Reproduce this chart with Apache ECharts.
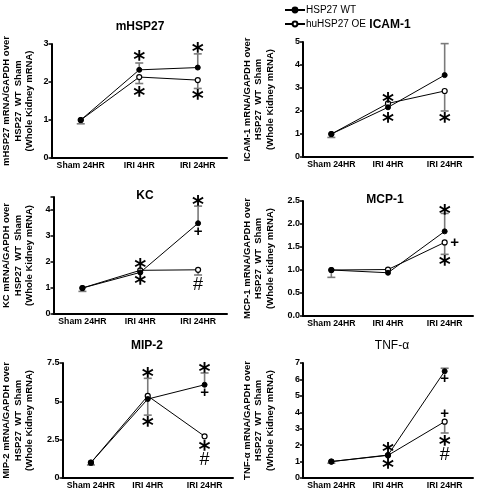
<!DOCTYPE html>
<html><head><meta charset="utf-8">
<script src="https://cdn.jsdelivr.net/npm/echarts@6/dist/echarts.min.js"></script>
<style>html,body{margin:0;padding:0;background:#fff}#c{width:479px;height:490px}</style>
</head><body><div id="c"></div>
<script>
// ---------- DATA ----------
const categories = ['Sham 24HR', 'IRI 4HR', 'IRI 24HR'];
const seriesNames = ['HSP27 WT', 'huHSP27 OE'];
const panelTitles = ['mHSP27', 'ICAM-1', 'KC', 'MCP-1', 'MIP-2', 'TNF-α'];
const yNames = [
  'mHSP27 mRNA/GAPDH over\nHSP27  WT  Sham\n(Whole Kidney mRNA)',
  'ICAM-1 mRNA/GAPDH over\nHSP27  WT  Sham\n(Whole Kidney mRNA)',
  'KC mRNA/GAPDH over\nHSP27  WT  Sham\n(Whole Kidney mRNA)',
  'MCP-1 mRNA/GAPDH over\nHSP27  WT  Sham\n(Whole Kidney mRNA)',
  'MIP-2 mRNA/GAPDH over\nHSP27  WT  Sham\n(Whole Kidney mRNA)',
  'TNF-α mRNA/GAPDH over\nHSP27  WT  Sham\n(Whole Kidney mRNA)'
];
const yMax = [3, 5, 4.5, 2.5, 7.5, 7];
const yInterval = [1, 1, 1, 0.5, 2.5, 1];

// means
const mHSP27_WT = [1.00, 2.32, 2.38];
const mHSP27_OE = [1.00, 2.13, 2.05];
const ICAM1_WT = [1.00, 2.16, 3.56];
const ICAM1_OE = [1.00, 2.33, 2.87];
const KC_WT = [1.00, 1.60, 3.49];
const KC_OE = [1.00, 1.68, 1.70];
const MCP1_WT = [1.00, 0.94, 1.84];
const MCP1_OE = [1.00, 1.01, 1.60];
const MIP2_WT = [1.00, 5.15, 6.08];
const MIP2_OE = [1.00, 5.35, 2.72];
const TNF_WT = [1.00, 1.40, 6.50];
const TNF_OE = [1.00, 1.38, 3.43];

// error bar ends (null = no bar drawn)
const mHSP27_WT_err = [null, 2.50, 2.74];
const mHSP27_OE_err = [0.90, 1.96, 1.83];
const ICAM1_WT_err = [null, null, 4.93];
const ICAM1_OE_err = [0.85, null, 2.00];
const KC_WT_err = [null, null, 4.15];
const KC_OE_err = [0.87, null, 1.50];
const MCP1_WT_err = [null, null, 2.23];
const MCP1_OE_err = [0.84, null, 1.34];
const MIP2_WT_err = [null, 4.10, 6.85];
const MIP2_OE_err = [0.85, 6.50, null];
const TNF_WT_err = [null, null, 6.68];
const TNF_OE_err = [0.90, null, 2.74];

// significance marks: [category index, value, symbol, side]
const mHSP27_marks = [[1, 2.71, '*'], [1, 1.76, '*'], [2, 2.92, '*'], [2, 1.68, '*']];
const ICAM1_marks = [[1, 2.61, '*'], [1, 1.74, '*'], [2, 5.20, '*'], [2, 1.74, '*']];
const KC_marks = [[1, 1.96, '*'], [1, 1.35, '*'], [2, 4.38, '*'], [2, 3.15, '+'], [2, 1.12, '#']];
const MCP1_marks = [[2, 2.33, '*'], [2, 1.59, '+', 'r'], [2, 1.22, '*']];
const MIP2_marks = [[1, 6.90, '*'], [1, 3.72, '*'], [2, 7.25, '*'], [2, 5.54, '+'], [2, 2.15, '*'], [2, 1.17, '#']];
const TNF_marks = [[1, 1.89, '*'], [1, 0.91, '*'], [2, 7.18, '*'], [2, 6.03, '+'], [2, 3.90, '+'], [2, 2.31, '*'], [2, 1.40, '#']];

const panels = [
  {wt: mHSP27_WT, oe: mHSP27_OE, wtErr: mHSP27_WT_err, oeErr: mHSP27_OE_err, marks: mHSP27_marks},
  {wt: ICAM1_WT, oe: ICAM1_OE, wtErr: ICAM1_WT_err, oeErr: ICAM1_OE_err, marks: ICAM1_marks},
  {wt: KC_WT, oe: KC_OE, wtErr: KC_WT_err, oeErr: KC_OE_err, marks: KC_marks},
  {wt: MCP1_WT, oe: MCP1_OE, wtErr: MCP1_WT_err, oeErr: MCP1_OE_err, marks: MCP1_marks},
  {wt: MIP2_WT, oe: MIP2_OE, wtErr: MIP2_WT_err, oeErr: MIP2_OE_err, marks: MIP2_marks},
  {wt: TNF_WT, oe: TNF_OE, wtErr: TNF_WT_err, oeErr: TNF_OE_err, marks: TNF_marks}
];

// ---------- LAYOUT / STYLE ----------
const FONT = 'Liberation Sans, Arial, sans-serif';
const grids = [
  {left: 50, top: 44, width: 177, height: 114},
  {left: 303, top: 42, width: 170, height: 115},
  {left: 53, top: 197, width: 174, height: 117},
  {left: 303, top: 201, width: 170, height: 115},
  {left: 62, top: 363, width: 171, height: 115},
  {left: 303, top: 363, width: 170, height: 115}
];
const nameGaps = [16, 27, 18, 27, 27, 27];
const titlePos = [[140, 27, true], [390, 25, true], [145, 196, true], [385, 200, true], [147, 346, true], [392, 346, false]];

function errRender(params, api) {
  const p1 = api.coord([api.value(0), api.value(1)]);
  const p2 = api.coord([api.value(0), api.value(2)]);
  const hw = 4;
  const st = {stroke: '#7a7a7a', lineWidth: 1.6};
  return {type: 'group', children: [
    {type: 'line', shape: {x1: p1[0], y1: p1[1], x2: p2[0], y2: p2[1]}, style: st},
    {type: 'line', shape: {x1: p2[0] - hw, y1: p2[1], x2: p2[0] + hw, y2: p2[1]}, style: st}
  ]};
}
function errData(means, errs) {
  const out = [];
  errs.forEach((e, i) => { if (e !== null) out.push([i, means[i], e]); });
  return out;
}

const option = {
  animation: false,
  backgroundColor: '#fff',
  textStyle: {fontFamily: FONT},
  legend: {
    data: seriesNames, orient: 'vertical', left: 279, top: 0,
    itemWidth: 20, itemHeight: 6, itemGap: 4,
    textStyle: {fontFamily: FONT, fontSize: 10, color: '#000', padding: [0, 0, 0, -4]}
  },
  graphic: titlePos.map((t, i) => ({
    type: 'text', x: t[0], y: t[1],
    style: {text: panelTitles[i], x: 0, y: 0, align: 'center', verticalAlign: 'middle',
      font: (t[2] ? 'bold ' : '') + '12px ' + FONT, fill: '#000'}
  })),
  grid: grids,
  xAxis: grids.map((g, i) => ({
    type: 'category', gridIndex: i, data: categories, boundaryGap: true,
    axisLine: {lineStyle: {color: '#000', width: 2}},
    axisTick: {alignWithLabel: true, length: 4, lineStyle: {color: '#000', width: 1.5}},
    axisLabel: {color: '#000', fontWeight: 'bold', fontSize: 8.7, margin: 3, fontFamily: FONT, interval: 0}
  })),
  yAxis: grids.map((g, i) => ({
    type: 'value', gridIndex: i, min: 0, max: yMax[i], interval: yInterval[i],
    name: yNames[i], nameLocation: 'middle', nameGap: nameGaps[i],
    nameTextStyle: {color: '#000', fontWeight: 'bold', fontSize: 9.5, lineHeight: 11.5, fontFamily: FONT},
    axisLine: {show: true, lineStyle: {color: '#000', width: 2}},
    axisTick: {show: true, length: 3, lineStyle: {color: '#000', width: 1.5}},
    splitLine: {show: false},
    axisLabel: {color: '#000', fontWeight: 'bold', fontSize: 9, margin: 3, fontFamily: FONT,
      formatter: v => {
        const k = Math.round(v / yInterval[i]);
        if (Math.abs(k * yInterval[i] - v) > 1e-6) return '';
        return yInterval[i] < 1 ? v.toFixed(1) : String(v);
      }}
  })),
  series: []
};

panels.forEach((p, i) => {
  option.series.push({
    type: 'custom', xAxisIndex: i, yAxisIndex: i, renderItem: errRender,
    data: errData(p.wt, p.wtErr), z: 1, silent: true
  });
  option.series.push({
    type: 'custom', xAxisIndex: i, yAxisIndex: i, renderItem: errRender,
    data: errData(p.oe, p.oeErr), z: 1, silent: true
  });
  option.series.push({
    name: seriesNames[1], type: 'line', xAxisIndex: i, yAxisIndex: i, data: p.oe,
    symbol: 'circle', symbolSize: 5, z: 3,
    lineStyle: {color: '#000', width: 1}, itemStyle: {color: '#fff', borderColor: '#000', borderWidth: 1.2}
  });
  option.series.push({
    name: seriesNames[0], type: 'line', xAxisIndex: i, yAxisIndex: i, data: p.wt,
    symbol: 'circle', symbolSize: 5, z: 4,
    lineStyle: {color: '#000', width: 1}, itemStyle: {color: '#000', borderColor: '#000', borderWidth: 1}
  });
  option.series.push({
    type: 'scatter', xAxisIndex: i, yAxisIndex: i, z: 5, silent: true,
    symbol: 'circle', symbolSize: 1, itemStyle: {color: 'rgba(0,0,0,0)', opacity: 1},
    data: p.marks.map(m => ({
      value: [m[0], m[1]],
      label: {
        show: true, position: 'inside', formatter: m[2], color: '#000', opacity: 1,
        textBorderWidth: 0,
        fontFamily: m[2] === '*' ? 'DejaVu Sans' : FONT,
        fontSize: m[2] === '*' ? 23 : (m[2] === '#' ? 18 : 15),
        fontWeight: m[2] === '#' ? 'normal' : 'bold',
        offset: [m[3] === 'r' ? 10 : 0, m[2] === '*' ? 6 : 0]
      }
    }))
  });
});

const chart = echarts.init(document.getElementById('c'), null, {renderer: 'canvas'});
chart.setOption(option);
</script></body></html>
